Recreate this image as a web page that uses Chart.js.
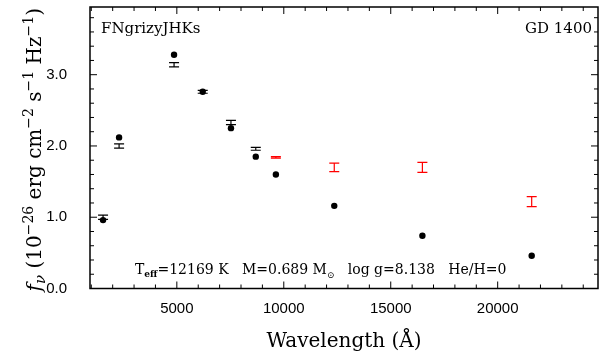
<!DOCTYPE html>
<html lang="en">
<head>
<meta charset="utf-8">
<title>GD 1400 SED</title>
<script src="https://cdn.jsdelivr.net/npm/chart.js@4.4.1/dist/chart.umd.min.js"></script>
<style>
  html, body { margin: 0; padding: 0; background: #fff; }
  #sed { display: block; }
</style>
</head>
<body>
<canvas id="sed" width="608" height="356"></canvas>
<script>
"use strict";

// photometry: GALEX FUV/NUV, griz y, JHKs
const bands = ['FUV', 'NUV', 'g', 'r', 'i', 'z', 'y', 'J', 'H', 'Ks'];
const wavelengths = [1550, 2300, 4870, 6210, 7530, 8690, 9630, 12360, 16480, 21590];
const obsFlux = [1.00, 2.00, 3.14, 2.76, 2.33, 1.96, 1.84, 1.70, 1.70, 1.22];
const obsErr = [0.03, 0.03, 0.03, 0.02, 0.03, 0.02, 0.01, 0.06, 0.07, 0.07];
const modelFlux = [0.96, 2.12, 3.28, 2.76, 2.25, 1.85, 1.60, 1.16, 0.74, 0.46];
const obsColors = ['#000', '#000', '#000', '#000', '#000', '#000', '#f00', '#f00', '#f00', '#f00'];

// axis ticks
const xTickValues = [5000, 10000, 15000, 20000];
const yTickValues = [0, 1, 2, 3];
const xMinorStep = 1000;
const yMinorStep = 0.2;

const serif = '"DejaVu Serif", serif';

// writes a run of text pieces (sub/superscripts) starting at x
function drawPieces(ctx, pieces, x, y, align) {
    let total = 0;
    pieces.forEach(p => { ctx.font = p.font; p.w = ctx.measureText(p.t).width; total += p.w; });
    let cx = align === 'center' ? x - total / 2 : (align === 'right' ? x - total : x);
    ctx.textAlign = 'left';
    ctx.textBaseline = 'alphabetic';
    pieces.forEach(p => {
        ctx.font = p.font;
        ctx.fillText(p.t, cx, y + (p.dy || 0));
        cx += p.w;
    });
}

// error bars for the observed fluxes
const errorBars = {
    id: 'errorBars',
    beforeDatasetsDraw(chart) {
        const ctx = chart.ctx;
        const xs = chart.scales.x, ys = chart.scales.y;
        ctx.save();
        ctx.lineWidth = 1.2;
        wavelengths.forEach((w, i) => {
            const px = xs.getPixelForValue(w);
            const top = ys.getPixelForValue(obsFlux[i] + obsErr[i]);
            const bot = ys.getPixelForValue(obsFlux[i] - obsErr[i]);
            ctx.strokeStyle = obsColors[i];
            ctx.beginPath();
            ctx.moveTo(px, top); ctx.lineTo(px, bot);
            ctx.moveTo(px - 5, top); ctx.lineTo(px + 5, top);
            ctx.moveTo(px - 5, bot); ctx.lineTo(px + 5, bot);
            ctx.stroke();
        });
        ctx.restore();
    }
};

// box frame with inward ticks on all four sides, plus the labels
const frame = {
    id: 'frame',
    afterDraw(chart) {
        const ctx = chart.ctx;
        const a = chart.chartArea;
        const xs = chart.scales.x, ys = chart.scales.y;
        ctx.save();
        ctx.strokeStyle = '#000';
        ctx.lineWidth = 1.5;
        ctx.strokeRect(a.left, a.top, a.right - a.left, a.bottom - a.top);

        ctx.lineWidth = 1;
        ctx.beginPath();
        for (let v = Math.ceil(xs.min / xMinorStep) * xMinorStep; v <= xs.max; v += xMinorStep) {
            const px = xs.getPixelForValue(v);
            const len = v % 5000 === 0 ? 7 : 4;
            ctx.moveTo(px, a.bottom); ctx.lineTo(px, a.bottom - len);
            ctx.moveTo(px, a.top); ctx.lineTo(px, a.top + len);
        }
        for (let k = 0; k * yMinorStep <= ys.max + 1e-9; k++) {
            const v = k * yMinorStep;
            const py = ys.getPixelForValue(v);
            const len = k % 5 === 0 ? 7 : 4;
            ctx.moveTo(a.left, py); ctx.lineTo(a.left + len, py);
            ctx.moveTo(a.right, py); ctx.lineTo(a.right - len, py);
        }
        ctx.stroke();

        ctx.fillStyle = '#000';
        // x title
        ctx.font = '20px ' + serif;
        ctx.textAlign = 'center';
        ctx.textBaseline = 'alphabetic';
        ctx.fillText('Wavelength (Å)', (a.left + a.right) / 2, 347);

        // y title, rotated
        ctx.save();
        ctx.translate(41, (a.top + a.bottom) / 2 + 2);
        ctx.rotate(-Math.PI / 2);
        const big = '20px ' + serif, sup = '14px ' + serif;
        drawPieces(ctx, [
            { t: 'f', font: 'italic ' + big },
            { t: 'ν', font: 'italic 15px ' + serif, dy: 4 },
            { t: ' (10', font: big },
            { t: '−26', font: sup, dy: -8 },
            { t: ' erg cm', font: big },
            { t: '−2', font: sup, dy: -8 },
            { t: ' s', font: big },
            { t: '−1', font: sup, dy: -8 },
            { t: ' Hz', font: big },
            { t: '−1', font: sup, dy: -8 },
            { t: ')', font: big }
        ], 0, 0, 'center');
        ctx.restore();

        // corner labels
        ctx.font = '15px ' + serif;
        ctx.textAlign = 'left';
        ctx.fillText('FNgrizyJHKs', a.left + 11, 33);
        ctx.textAlign = 'right';
        ctx.fillText('GD 1400', a.right - 6, 33);

        // fit parameters
        const f = '14px ' + serif, s = '9px ' + serif;
        drawPieces(ctx, [
            { t: 'T', font: f },
            { t: 'eff', font: 'bold ' + s, dy: 3 },
            { t: '=12169 K   M=0.689 M', font: f },
            { t: '⊙', font: s, dy: 4 },
            { t: '   log g=8.138   He/H=0', font: f }
        ], 135, 274, 'left');
        ctx.restore();
    }
};

new Chart(document.getElementById('sed'), {
    type: 'scatter',
    data: {
        datasets: [{
            label: 'model',
            data: wavelengths.map((w, i) => ({ x: w, y: modelFlux[i] })),
            pointRadius: 3.2,
            pointHoverRadius: 3.2,
            backgroundColor: '#000',
            borderWidth: 0
        }, {
            label: 'observed',
            data: wavelengths.map((w, i) => ({ x: w, y: obsFlux[i] })),
            pointRadius: 0,
            pointHoverRadius: 0
        }]
    },
    options: {
        responsive: false,
        animation: false,
        devicePixelRatio: 1,
        events: [],
        layout: { padding: { top: 7, right: 10, left: 0, bottom: 0 } },
        plugins: {
            legend: { display: false },
            tooltip: { enabled: false }
        },
        scales: {
            x: {
                type: 'linear',
                min: 940,
                max: 24690,
                grid: { display: false, drawTicks: false },
                border: { display: false },
                ticks: {
                    color: '#000',
                    font: { family: '"Liberation Sans", sans-serif', size: 15 },
                    padding: 11,
                    maxRotation: 0,
                    autoSkip: false,
                    callback: v => String(v)
                },
                afterBuildTicks(scale) { scale.ticks = xTickValues.map(v => ({ value: v })); },
                afterFit(scale) {
                    scale.height = 67.5;
                    scale.paddingLeft = 0;
                    scale.paddingRight = 0;
                }
            },
            y: {
                min: 0,
                max: 3.95,
                grid: { display: false, drawTicks: false },
                border: { display: false },
                ticks: {
                    color: '#000',
                    font: { family: '"Liberation Sans", sans-serif', size: 15 },
                    padding: 23,
                    callback: v => v.toFixed(1)
                },
                afterBuildTicks(scale) { scale.ticks = yTickValues.map(v => ({ value: v })); },
                afterFit(scale) {
                    scale.width = 90;
                    scale.paddingTop = 0;
                    scale.paddingBottom = 0;
                }
            }
        }
    },
    plugins: [errorBars, frame]
});
</script>
</body>
</html>
